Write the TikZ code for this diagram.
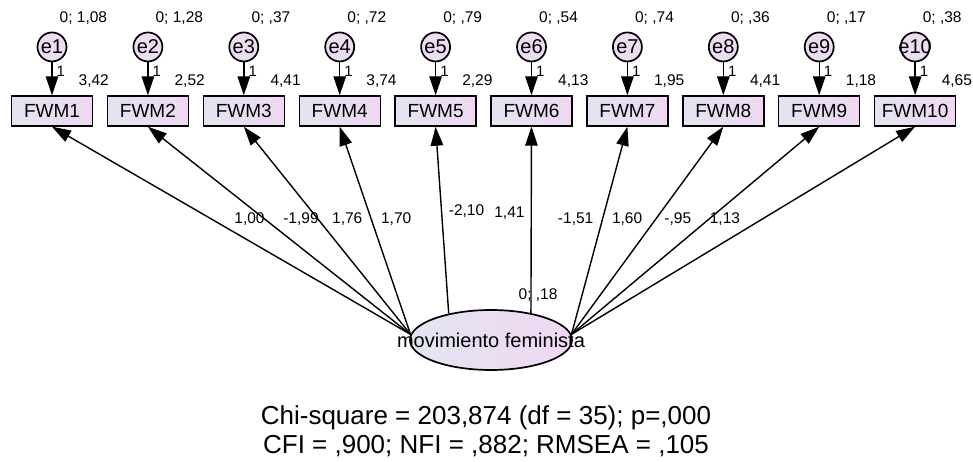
\documentclass[tikz,border=0pt]{standalone}
\usepackage{fontspec}
\setmainfont{Liberation Sans}
\usetikzlibrary{arrows.meta,positioning,shapes.geometric}

\definecolor{boxL}{RGB}{226,229,241}
\definecolor{boxR}{RGB}{241,215,243}
\definecolor{errF}{RGB}{237,221,243}
\newcommand{\fsz}[1]{\fontsize{#1}{#1}\selectfont}

\begin{document}
\begin{tikzpicture}[
  x=1pt, y=-1pt,
  line width=1.4pt,
  >={Triangle[length=19pt,width=12.5pt]},
  every node/.style={font=\fsz{15.5}},
  ind/.style={draw, left color=boxL, right color=boxR, minimum width=81pt, minimum height=30pt, inner sep=0pt, font=\fsz{19}},
  err/.style={circle, draw, line width=1.7pt, fill=errF, minimum size=29pt, inner sep=0pt, font=\fsz{20}},
  lat/.style={ellipse, draw, line width=1.7pt, left color=boxL, right color=boxR, minimum width=162pt, minimum height=60pt, inner sep=0pt},
  lab/.style={inner sep=1pt, anchor=west},
  one/.style={pos=.28, anchor=west, xshift=3pt, inner sep=1pt, font=\fsz{15}},
  ldL/.style={pos=.51, anchor=south west, xshift=4pt, inner sep=2pt},
  ldR/.style={pos=.51, anchor=south east, xshift=-4pt, inner sep=2pt}
]
\useasboundingbox (0,0) rectangle (973,462);

% Indicators
\node[ind] (FWM1) at (52,111) {FWM1};
\node[ind] (FWM2) [right=13.5pt of FWM1] {FWM2};
\node[ind] (FWM3) [right=13.5pt of FWM2] {FWM3};
\node[ind] (FWM4) [right=13.5pt of FWM3] {FWM4};
\node[ind] (FWM5) [right=13.5pt of FWM4] {FWM5};
\node[ind] (FWM6) [right=13.5pt of FWM5] {FWM6};
\node[ind] (FWM7) [right=13.5pt of FWM6] {FWM7};
\node[ind] (FWM8) [right=13.5pt of FWM7] {FWM8};
\node[ind] (FWM9) [right=13.5pt of FWM8] {FWM9};
\node[ind] (FWM10) [right=13.5pt of FWM9] {FWM10};

% Errors
\node[err] (e1) [above=33pt of FWM1] {e1};
\node[err] (e2) [above=33pt of FWM2] {e2};
\node[err] (e3) [above=33pt of FWM3] {e3};
\node[err] (e4) [above=33pt of FWM4] {e4};
\node[err] (e5) [above=33pt of FWM5] {e5};
\node[err] (e6) [above=33pt of FWM6] {e6};
\node[err] (e7) [above=33pt of FWM7] {e7};
\node[err] (e8) [above=33pt of FWM8] {e8};
\node[err] (e9) [above=33pt of FWM9] {e9};
\node[err] (e10) [above=33pt of FWM10] {\makebox[0pt]{e10}};

% Variances
\node[lab] (v1) at ([xshift=6pt,yshift=14pt]e1.north) {0; 1,08};
\node[lab] (v2) at ([xshift=6pt,yshift=14pt]e2.north) {0; 1,28};
\node[lab] (v3) at ([xshift=6pt,yshift=14pt]e3.north) {0; ,37};
\node[lab] (v4) at ([xshift=6pt,yshift=14pt]e4.north) {0; ,72};
\node[lab] (v5) at ([xshift=6pt,yshift=14pt]e5.north) {0; ,79};
\node[lab] (v6) at ([xshift=6pt,yshift=14pt]e6.north) {0; ,54};
\node[lab] (v7) at ([xshift=6pt,yshift=14pt]e7.north) {0; ,74};
\node[lab] (v8) at ([xshift=6pt,yshift=14pt]e8.north) {0; ,36};
\node[lab] (v9) at ([xshift=6pt,yshift=14pt]e9.north) {0; ,17};
\node[lab] (v10) at ([xshift=6pt,yshift=14pt]e10.north) {0; ,38};

% Intercepts
\node[lab] (m1) at ([xshift=25pt,yshift=14pt]FWM1.north) {3,42};
\node[lab] (m2) at ([xshift=25pt,yshift=14pt]FWM2.north) {2,52};
\node[lab] (m3) at ([xshift=25pt,yshift=14pt]FWM3.north) {4,41};
\node[lab] (m4) at ([xshift=25pt,yshift=14pt]FWM4.north) {3,74};
\node[lab] (m5) at ([xshift=25pt,yshift=14pt]FWM5.north) {2,29};
\node[lab] (m6) at ([xshift=25pt,yshift=14pt]FWM6.north) {4,13};
\node[lab] (m7) at ([xshift=25pt,yshift=14pt]FWM7.north) {1,95};
\node[lab] (m8) at ([xshift=25pt,yshift=14pt]FWM8.north) {4,41};
\node[lab] (m9) at ([xshift=25pt,yshift=14pt]FWM9.north) {1,18};
\node[lab] (m10) at ([xshift=25pt,yshift=14pt]FWM10.north) {4,65};

% Error paths
\draw[->] (e1) -- (FWM1) node[one] (w1) {1};
\draw[->] (e2) -- (FWM2) node[one] (w2) {1};
\draw[->] (e3) -- (FWM3) node[one] (w3) {1};
\draw[->] (e4) -- (FWM4) node[one] (w4) {1};
\draw[->] (e5) -- (FWM5) node[one] (w5) {1};
\draw[->] (e6) -- (FWM6) node[one] (w6) {1};
\draw[->] (e7) -- (FWM7) node[one] (w7) {1};
\draw[->] (e8) -- (FWM8) node[one] (w8) {1};
\draw[->] (e9) -- (FWM9) node[one] (w9) {1};
\draw[->] (e10) -- (FWM10) node[one] (w10) {1};

% Latent factor
\node[lat] (lat) at (491,340) {};
\node[lab] (vlat) at ([xshift=26pt,yshift=14pt]lat.north) {0; ,18};

% Loadings
\draw[->] (lat.176) -- (FWM1.south) node[ldL] (l1) {1,00};
\draw[->] (lat.176) -- (FWM2.south) node[ldL] (l2) {-1,99};
\draw[->] (lat.176) -- (FWM3.south) node[ldL] (l3) {1,76};
\draw[->] (lat.176) -- (FWM4.south) node[ldL] (l4) {1,70};
\draw[->] (lat.148) -- (FWM5.south) node[ldL, pos=.5] (l5) {-2,10};
\draw[->] (lat.34) -- (FWM6.south) node[ldR, pos=.49] (l6) {1,41};
\draw[->] (lat.4) -- (FWM7.south) node[ldR] (l7) {-1,51};
\draw[->] (lat.4) -- (FWM8.south) node[ldR] (l8) {1,60};
\draw[->] (lat.4) -- (FWM9.south) node[ldR] (l9) {-,95};
\draw[->] (lat.4) -- (FWM10.south) node[ldR] (l10) {1,13};

\node[font=\fsz{20}] (latname) at (lat.center) {movimiento feminista};

% Fit
\node[font=\fsz{26}, anchor=base] (chi) at (486,424) {Chi-square = 203,874 (df = 35); p=,000};
\node[font=\fsz{26}, anchor=base] (fit) at ([yshift=-29pt]chi.base) {CFI = ,900; NFI = ,882; RMSEA = ,105};

\end{tikzpicture}
\end{document}
